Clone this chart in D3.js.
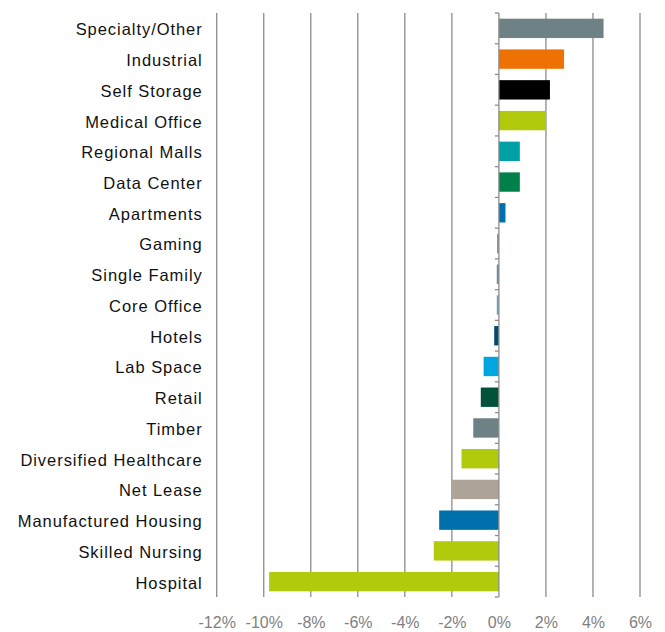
<!DOCTYPE html>
<html>
<head>
<meta charset="utf-8">
<script src="https://cdn.jsdelivr.net/npm/d3@7"></script>
<style>
  body { margin: 0; background: #fff; }
  text { font-family: "Liberation Sans", Arial, sans-serif; }
</style>
</head>
<body>
<div id="chart"></div>
<script>
// Data
const categories = ["Specialty/Other", "Industrial", "Self Storage", "Medical Office", "Regional Malls",
  "Data Center", "Apartments", "Gaming", "Single Family", "Core Office", "Hotels", "Lab Space",
  "Retail", "Timber", "Diversified Healthcare", "Net Lease", "Manufactured Housing",
  "Skilled Nursing", "Hospital"];
const values = [4.45, 2.77, 2.17, 1.97, 0.89, 0.89, 0.28, -0.08, -0.09, -0.09, -0.2, -0.65,
  -0.77, -1.09, -1.59, -1.99, -2.54, -2.77, -9.77];
const colors = ["#6e8285", "#ee7203", "#000000", "#b1ca0b", "#00a0a6", "#00804a", "#0071ad",
  "#8a9597", "#5b8fa8", "#5baac4", "#004c6c", "#00a6de", "#00533a", "#6e8285", "#b1ca0b",
  "#ada398", "#0071ad", "#b1ca0b", "#b1ca0b"];
const xTicks = [-12, -10, -8, -6, -4, -2, 0, 2, 4, 6];

const W = 665, H = 632;
const margin = { top: 13, right: 25, bottom: 35, left: 216.7 };
const width = W - margin.left - margin.right,
      height = H - margin.top - margin.bottom;

const svg = d3.select("#chart").append("svg")
    .attr("width", W)
    .attr("height", H)
  .append("g")
    .attr("transform", `translate(${margin.left},${margin.top})`);

const x = d3.scaleLinear().domain([-12, 6]).range([0, width]);
const y = d3.scaleBand().domain(categories).range([0, height]).paddingInner(0.37).paddingOuter(0.185);
const yb = d3.scaleBand().domain(categories).range([0, height]);

// Vertical gridlines
svg.selectAll(".grid")
  .data(xTicks.filter(d => d !== 0))
  .enter().append("line")
    .attr("x1", d => x(d)).attr("x2", d => x(d))
    .attr("y1", 0).attr("y2", height)
    .attr("stroke", "#8c8c8c")
    .attr("stroke-width", 1.3);

// Bars
const data = categories.map((c, i) => ({ name: c, value: values[i], color: colors[i] }));
svg.selectAll(".bar")
  .data(data)
  .enter().append("rect")
    .attr("class", "bar")
    .attr("x", d => x(Math.min(0, d.value)))
    .attr("width", d => Math.abs(x(d.value) - x(0)))
    .attr("y", d => y(d.name))
    .attr("height", y.bandwidth())
    .attr("fill", d => d.color);

// Zero axis line with category ticks at band boundaries
svg.append("line")
    .attr("x1", x(0)).attr("x2", x(0))
    .attr("y1", 0).attr("y2", height)
    .attr("stroke", "#8c8c8c")
    .attr("stroke-width", 1.3);
svg.selectAll(".ctick")
  .data(categories.map(c => yb(c)).concat([height]))
  .enter().append("line")
    .attr("x1", x(0) - 4).attr("x2", x(0))
    .attr("y1", d => d).attr("y2", d => d)
    .attr("stroke", "#8c8c8c")
    .attr("stroke-width", 1.3);

// Category labels
const yAxis = svg.append("g")
    .call(d3.axisLeft(y).tickSize(0).tickPadding(14));
yAxis.select(".domain").remove();
yAxis.selectAll("text")
    .attr("font-size", 16.5)
    .attr("letter-spacing", "0.95px")
    .attr("dy", "0.42em")
    .attr("font-family", "Liberation Sans, Arial, sans-serif")
    .attr("fill", "#111");

// X axis labels
const xAxis = svg.append("g")
    .attr("transform", `translate(0,${height})`)
    .call(d3.axisBottom(x).tickValues(xTicks).tickFormat(d => d + "%").tickSize(0).tickPadding(20));
xAxis.select(".domain").remove();
xAxis.selectAll("text")
    .attr("font-size", 16)
    .attr("font-family", "Liberation Sans, Arial, sans-serif")
    .attr("fill", "#7f7f7f");
</script>
</body>
</html>
